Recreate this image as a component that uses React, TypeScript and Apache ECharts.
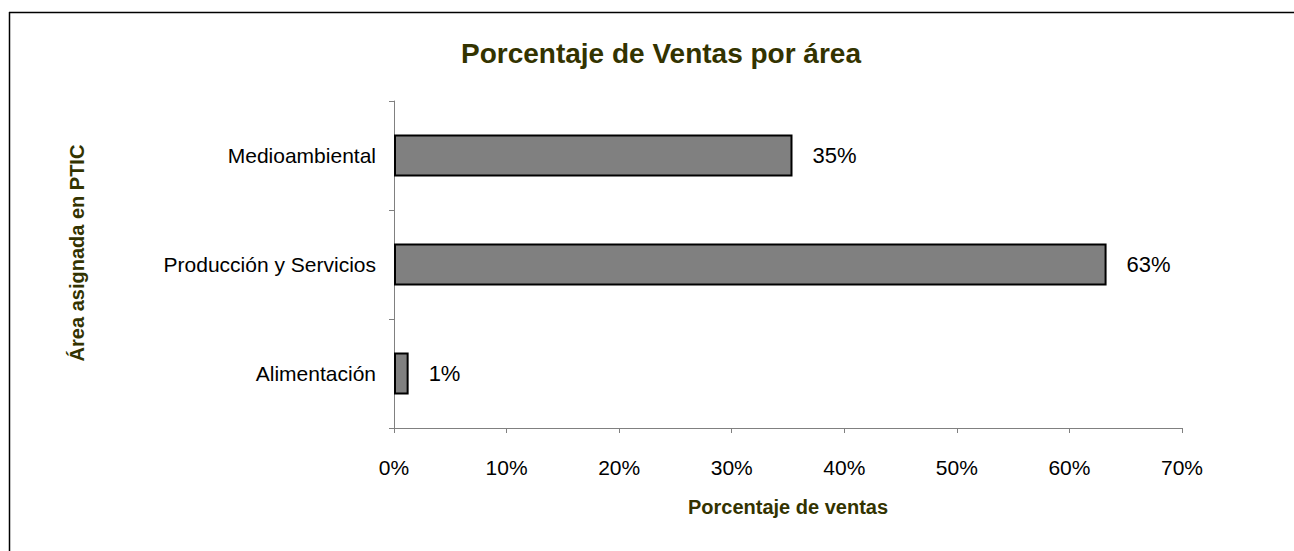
import React, { useEffect, useRef } from "react";
import * as echarts from "echarts";

const categories = ["Alimentación", "Producción y Servicios", "Medioambiental"];
const values = [1.3, 63.3, 35.4];
const xTicks = [0, 10, 20, 30, 40, 50, 60, 70];
const titleText = "Porcentaje de Ventas por área";
const xName = "Porcentaje de ventas";
const yName = "Área asignada en PTIC";

const OLIVE = "#333300";
const FONT = "'Liberation Sans', Arial, sans-serif";

export default function App() {
  const ref = useRef<HTMLDivElement>(null);
  useEffect(() => {
    if (!ref.current) return;
    const chart = echarts.init(ref.current, null, { renderer: "svg" });
    chart.setOption({
      animation: false,
      backgroundColor: "#ffffff",
      title: {
        text: titleText,
        left: 656,
        textAlign: "center",
        top: 34,
        textStyle: { fontFamily: FONT, fontSize: 28, fontWeight: "bold", color: OLIVE },
      },
      grid: { left: 394, right: 112, top: 101, bottom: 123 },
      xAxis: {
        type: "value",
        min: xTicks[0],
        max: xTicks[xTicks.length - 1],
        interval: 10,
        name: xName,
        nameLocation: "middle",
        nameGap: 69,
        nameTextStyle: { fontFamily: FONT, fontSize: 20, fontWeight: "bold", color: OLIVE },
        axisLine: { show: true, lineStyle: { color: "#808080", width: 1 } },
        axisTick: { show: true, length: 5, lineStyle: { color: "#808080" } },
        axisLabel: {
          margin: 29,
          fontFamily: FONT,
          fontSize: 21,
          color: "#000",
          formatter: (v: number) => `${v}%`,
        },
        splitLine: { show: false },
      },
      yAxis: {
        type: "category",
        data: categories,
        axisLine: { show: true, lineStyle: { color: "#808080", width: 1 } },
        axisTick: { show: true, length: 5, lineStyle: { color: "#808080" } },
        axisLabel: { margin: 18, fontFamily: FONT, fontSize: 21, color: "#000" },
      },
      series: [
        {
          type: "bar",
          data: values,
          barWidth: 42,
          itemStyle: { color: "#808080", borderColor: "#000", borderWidth: 2 },
          label: {
            show: true,
            position: "right",
            distance: 20,
            fontFamily: FONT,
            fontSize: 22,
            color: "#000",
            formatter: (p: any) => `${Math.round(p.value)}%`,
          },
        },
      ],
      graphic: [
        { type: "line", shape: { x1: 9, y1: 12.5, x2: 1294, y2: 12.5 }, style: { stroke: "#000", lineWidth: 1.5 } },
        { type: "line", shape: { x1: 9.5, y1: 12, x2: 9.5, y2: 551 }, style: { stroke: "#000", lineWidth: 1.5 } },
        {
          type: "text",
          x: 77,
          y: 253,
          rotation: Math.PI / 2,
          style: {
            text: yName,
            fontFamily: FONT,
            fontSize: 20,
            fontWeight: "bold",
            fill: OLIVE,
            align: "center",
            verticalAlign: "middle",
          },
        },
      ],
    });
    return () => chart.dispose();
  }, []);
  return (
    <div
      ref={ref}
      style={{ position: "absolute", left: 0, top: 0, width: 1294, height: 551 }}
    />
  );
}
